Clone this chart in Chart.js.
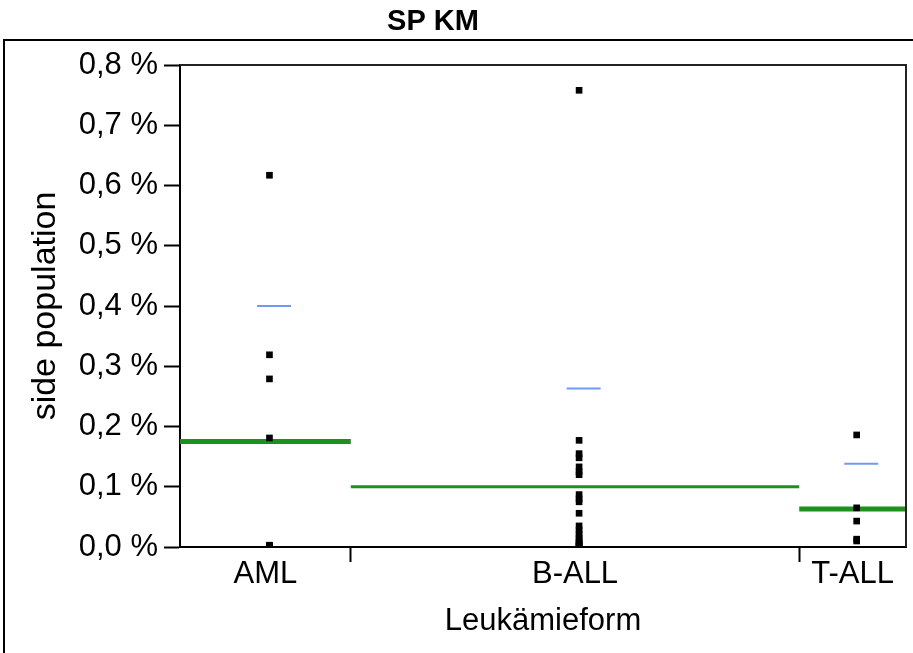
<!DOCTYPE html>
<html>
<head>
<meta charset="utf-8">
<script src="https://cdn.jsdelivr.net/npm/chart.js@4/dist/chart.umd.min.js"></script>
<style>
html,body{margin:0;padding:0;background:#fff;}
#wrap{width:913px;height:653px;position:relative;overflow:hidden;}
canvas{display:block;}
</style>
</head>
<body>
<div id="wrap"><canvas id="c" width="913" height="653"></canvas></div>
<script>
// ---- data (values in %) ----
const chartTitle = 'SP KM';
const categories = ['AML', 'B-ALL', 'T-ALL'];
const amlValues  = [0.617, 0.319, 0.279, 0.181, 0.003, 0.002, 0.001, 0.002];
const ballValues = [0.758, 0.177, 0.155, 0.148, 0.133, 0.125, 0.120, 0.087, 0.080, 0.075, 0.056,
                    0.035, 0.028, 0.022, 0.016, 0.012, 0.008, 0.005, 0.003, 0.002, 0.001];
const tallValues = [0.186, 0.065, 0.043, 0.013, 0.010];
const groupMeans      = [0.175, 0.100, 0.063];
const groupMeanPlusSD = [0.400, 0.263, 0.138];
const yTickValues = [0, 0.1, 0.2, 0.3, 0.4, 0.5, 0.6, 0.7, 0.8];
const yAxisTitle = 'side population';
const xAxisTitle = 'Leukämieform';

// ---- derived layout of groups (widths proportional to group size) ----
const groups = [amlValues, ballValues, tallValues];
const total = groups.reduce((s, g) => s + g.length, 0);
const starts = [];
let acc = 0;
groups.forEach(g => { starts.push(acc); acc += g.length; });
const ends = groups.map((g, i) => starts[i] + g.length);
const centers = groups.map((g, i) => starts[i] + g.length / 2);
const separators = ends.slice(0, -1);

// style
const FONT = "'Liberation Sans', Arial, sans-serif";
const GREEN = '#1c911c';
const BLUE = '#6f9af0';
const pointOffset = 0.19;
const sdLeft = -0.39, sdRight = 1.2;
const meanWidths = [5, 3, 5];

const datasets = [];
groups.forEach((vals, i) => {
  datasets.push({
    label: categories[i] + ' mean',
    data: [{x: starts[i], y: groupMeans[i]}, {x: ends[i], y: groupMeans[i]}],
    showLine: true, borderColor: GREEN, borderWidth: meanWidths[i],
    pointRadius: 0, order: 3
  });
  datasets.push({
    label: categories[i] + ' mean+sd',
    data: [{x: centers[i] + sdLeft, y: groupMeanPlusSD[i]}, {x: centers[i] + sdRight, y: groupMeanPlusSD[i]}],
    showLine: true, borderColor: BLUE, borderWidth: 2,
    pointRadius: 0, order: 2
  });
  datasets.push({
    label: categories[i],
    data: vals.map(v => ({x: centers[i] + pointOffset, y: v})),
    pointStyle: 'rect', pointRadius: 4.7, backgroundColor: '#000', borderWidth: 0,
    showLine: false, order: 1
  });
});

const framePlugin = {
  id: 'frame',
  beforeDraw(chart) {
    const ctx = chart.ctx;
    ctx.save();
    ctx.fillStyle = '#fff';
    ctx.fillRect(0, 0, chart.width, chart.height);
    ctx.strokeStyle = '#000';
    ctx.lineWidth = 2;
    ctx.strokeRect(4, 40, chart.width + 20, chart.height + 20);
    ctx.restore();
  },
  afterDraw(chart) {
    const ctx = chart.ctx;
    const a = chart.chartArea;
    ctx.save();
    ctx.strokeStyle = '#222';
    ctx.lineWidth = 2;
    ctx.beginPath();
    ctx.moveTo(a.left, a.top);
    ctx.lineTo(a.right, a.top);
    ctx.lineTo(a.right, a.bottom);
    ctx.stroke();
    ctx.fillStyle = '#000';
    ctx.font = 'bold 29px ' + FONT;
    ctx.textAlign = 'center';
    ctx.textBaseline = 'middle';
    ctx.fillText(chartTitle, 433, 22);
    ctx.restore();
  }
};

const isSep = v => separators.some(s => Math.abs(s - v) < 1e-6);

new Chart(document.getElementById('c'), {
  type: 'scatter',
  data: { datasets },
  plugins: [framePlugin],
  options: {
    responsive: false,
    animation: false,
    devicePixelRatio: 1,
    layout: { padding: { left: 20, top: 65, right: 7, bottom: 0 } },
    plugins: { legend: { display: false }, tooltip: { enabled: false }, title: { display: false } },
    scales: {
      x: {
        type: 'linear', min: 0, max: total,
        afterBuildTicks: s => {
          const vals = [...centers, ...separators].sort((a, b) => a - b);
          s.ticks = vals.map(v => ({ value: v }));
        },
        afterFit: s => { s.height = 106; },
        ticks: {
          autoSkip: false, maxRotation: 0, minRotation: 0, padding: -6,
          color: '#000', font: { family: FONT, size: 31 },
          callback: v => { const i = centers.findIndex(c => Math.abs(c - v) < 1e-6); return i >= 0 ? categories[i] : ''; }
        },
        grid: {
          drawOnChartArea: false, tickLength: 15, tickWidth: 2,
          tickColor: ctx => (ctx.tick && isSep(ctx.tick.value)) ? '#000' : 'rgba(0,0,0,0)'
        },
        border: { color: '#000', width: 2 },
        title: { display: true, text: xAxisTitle, color: '#000', font: { family: FONT, size: 31 }, padding: { top: 0, bottom: 13 } }
      },
      y: {
        type: 'linear', min: 0, max: 0.8,
        afterBuildTicks: s => { s.ticks = yTickValues.map(v => ({ value: v })); },
        afterFit: s => { s.width = 160; },
        ticks: {
          padding: 6, color: '#000', font: { family: FONT, size: 31 },
          callback: v => v.toFixed(1).replace('.', ',') + ' %'
        },
        grid: { drawOnChartArea: false, tickLength: 16, tickWidth: 2, tickColor: '#000' },
        border: { color: '#000', width: 2 },
        title: { display: true, text: yAxisTitle, color: '#000', font: { family: FONT, size: 34 }, padding: { top: 5, bottom: 0 } }
      }
    }
  }
});
</script>
</body>
</html>
